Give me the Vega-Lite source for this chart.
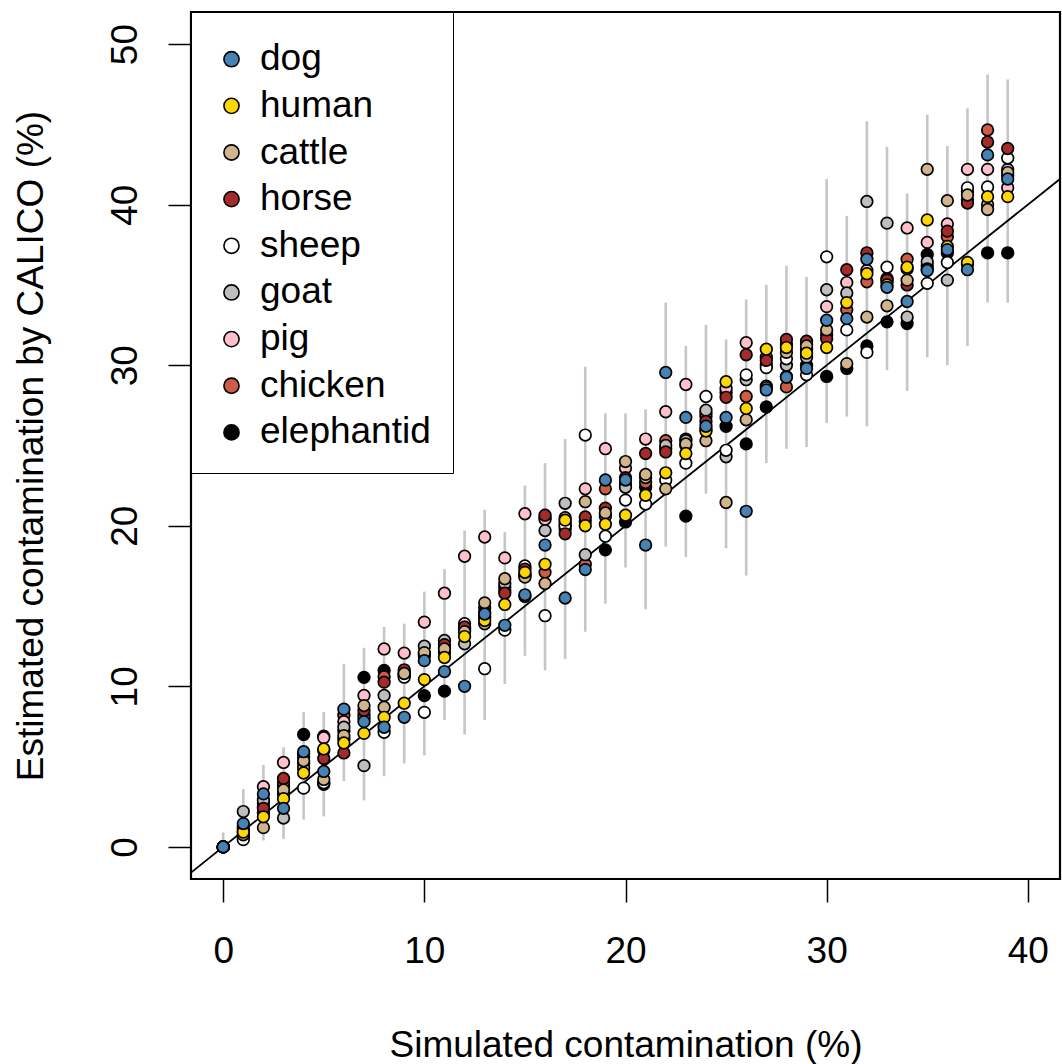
{
  "$schema": "https://vega.github.io/schema/vega-lite/v6.json",
  "width": 869,
  "height": 867,
  "autosize": {"type": "none"},
  "padding": {"left": 191, "top": 12, "right": 2, "bottom": 185},
  "background": "white",
  "config": {
    "view": {"stroke": "black", "strokeWidth": 2.2},
    "font": "Liberation Sans",
    "axis": {"domain": false, "grid": false, "ticks": true, "tickColor": "black", "tickWidth": 1.5, "tickSize": 23,
      "labelFont": "Liberation Sans", "labelFontSize": 37, "labelColor": "black", "labelFlush": false, "labelOverlap": false,
      "titleFont": "Liberation Sans", "titleFontSize": 37, "titleFontWeight": "normal", "titleColor": "black"}
  },
  "datasets": {
    "bars": [
      {"sim":0,"lo":0,"hi":0.9},{"sim":1,"lo":0.2,"hi":3.6},{"sim":2,"lo":0.4,"hi":5.1},{"sim":3,"lo":0.5,"hi":6.2},
      {"sim":4,"lo":1.7,"hi":8.4},{"sim":5,"lo":1.9,"hi":8.4},{"sim":6,"lo":4.1,"hi":11.4},{"sim":7,"lo":2.9,"hi":12.4},
      {"sim":8,"lo":4.4,"hi":13.7},{"sim":9,"lo":5.2,"hi":13.9},{"sim":10,"lo":5.7,"hi":15.9},{"sim":11,"lo":7.9,"hi":17.3},
      {"sim":12,"lo":7.0,"hi":19.7},{"sim":13,"lo":7.9,"hi":21.0},{"sim":14,"lo":10.15,"hi":19.6},{"sim":15,"lo":11.9,"hi":22.5},
      {"sim":16,"lo":11.0,"hi":23.9},{"sim":17,"lo":11.7,"hi":25.4},{"sim":18,"lo":13.4,"hi":29.9},{"sim":19,"lo":15.15,"hi":27.0},
      {"sim":20,"lo":17.4,"hi":27.0},{"sim":21,"lo":14.8,"hi":27.25},{"sim":22,"lo":18.7,"hi":33.9},{"sim":23,"lo":18.05,"hi":31.2},
      {"sim":24,"lo":22.0,"hi":32.5},{"sim":25,"lo":18.6,"hi":31.6},{"sim":26,"lo":16.9,"hi":34.1},{"sim":27,"lo":23.9,"hi":35.0},
      {"sim":28,"lo":24.8,"hi":36.2},{"sim":29,"lo":24.9,"hi":35.5},{"sim":30,"lo":26.4,"hi":41.6},{"sim":31,"lo":26.8,"hi":39.3},
      {"sim":32,"lo":26.2,"hi":45.2},{"sim":33,"lo":29.7,"hi":43.6},{"sim":34,"lo":28.4,"hi":40.7},{"sim":35,"lo":30.5,"hi":45.6},
      {"sim":36,"lo":30.0,"hi":43.65},{"sim":37,"lo":31.2,"hi":46.0},{"sim":38,"lo":33.9,"hi":48.1},{"sim":39,"lo":33.9,"hi":47.8}
    ],
    "diag": [{"v": -1.6}, {"v": 41.6}],
    "points": [
      {"sim":0,"species":"elephantid","est":0},{"sim":1,"species":"elephantid","est":0.6},{"sim":2,"species":"elephantid","est":2.5},{"sim":3,"species":"elephantid","est":3.8},{"sim":4,"species":"elephantid","est":7.0},{"sim":5,"species":"elephantid","est":6.9},{"sim":6,"species":"elephantid","est":7.2},{"sim":7,"species":"elephantid","est":10.56},{"sim":8,"species":"elephantid","est":10.99},{"sim":9,"species":"elephantid","est":10.7},
      {"sim":10,"species":"elephantid","est":9.42},{"sim":11,"species":"elephantid","est":9.7},{"sim":12,"species":"elephantid","est":13.5},{"sim":13,"species":"elephantid","est":14.3},{"sim":14,"species":"elephantid","est":16.0},{"sim":15,"species":"elephantid","est":17.0},{"sim":16,"species":"elephantid","est":20.5},{"sim":17,"species":"elephantid","est":20.0},{"sim":18,"species":"elephantid","est":20.3},{"sim":19,"species":"elephantid","est":18.5},
      {"sim":20,"species":"elephantid","est":20.24},{"sim":21,"species":"elephantid","est":22.4},{"sim":22,"species":"elephantid","est":24.8},{"sim":23,"species":"elephantid","est":20.6},{"sim":24,"species":"elephantid","est":26.0},{"sim":25,"species":"elephantid","est":26.2},{"sim":26,"species":"elephantid","est":25.1},{"sim":27,"species":"elephantid","est":27.4},{"sim":28,"species":"elephantid","est":29.3},{"sim":29,"species":"elephantid","est":30.0},
      {"sim":30,"species":"elephantid","est":29.3},{"sim":31,"species":"elephantid","est":29.8},{"sim":32,"species":"elephantid","est":31.2},{"sim":33,"species":"elephantid","est":32.7},{"sim":34,"species":"elephantid","est":32.6},{"sim":35,"species":"elephantid","est":36.9},{"sim":36,"species":"elephantid","est":37.0},{"sim":37,"species":"elephantid","est":36.3},{"sim":38,"species":"elephantid","est":37.0},{"sim":39,"species":"elephantid","est":37.0},

      {"sim":0,"species":"chicken","est":0},{"sim":1,"species":"chicken","est":0.9},{"sim":2,"species":"chicken","est":2.7},{"sim":3,"species":"chicken","est":4.0},{"sim":4,"species":"chicken","est":5.2},{"sim":5,"species":"chicken","est":6.0},{"sim":6,"species":"chicken","est":8.2},{"sim":7,"species":"chicken","est":8.2},{"sim":8,"species":"chicken","est":10.6},{"sim":9,"species":"chicken","est":10.9},
      {"sim":10,"species":"chicken","est":11.9},{"sim":11,"species":"chicken","est":12.4},{"sim":12,"species":"chicken","est":13.6},{"sim":13,"species":"chicken","est":14.9},{"sim":14,"species":"chicken","est":16.2},{"sim":15,"species":"chicken","est":15.6},{"sim":16,"species":"chicken","est":17.1},{"sim":17,"species":"chicken","est":19.8},{"sim":18,"species":"chicken","est":17.6},{"sim":19,"species":"chicken","est":22.3},
      {"sim":20,"species":"chicken","est":22.6},{"sim":21,"species":"chicken","est":22.7},{"sim":22,"species":"chicken","est":25.3},{"sim":23,"species":"chicken","est":25.4},{"sim":24,"species":"chicken","est":26.8},{"sim":25,"species":"chicken","est":28.3},{"sim":26,"species":"chicken","est":28.05},{"sim":27,"species":"chicken","est":30.0},{"sim":28,"species":"chicken","est":28.65},{"sim":29,"species":"chicken","est":31.3},
      {"sim":30,"species":"chicken","est":31.9},{"sim":31,"species":"chicken","est":33.45},{"sim":32,"species":"chicken","est":35.2},{"sim":33,"species":"chicken","est":35.2},{"sim":34,"species":"chicken","est":36.6},{"sim":35,"species":"chicken","est":36.2},{"sim":36,"species":"chicken","est":38.0},{"sim":37,"species":"chicken","est":40.3},{"sim":38,"species":"chicken","est":44.65},{"sim":39,"species":"chicken","est":41.8},

      {"sim":0,"species":"pig","est":0},{"sim":1,"species":"pig","est":1.3},{"sim":2,"species":"pig","est":3.75},{"sim":3,"species":"pig","est":5.26},{"sim":4,"species":"pig","est":5.8},{"sim":5,"species":"pig","est":6.8},{"sim":6,"species":"pig","est":7.8},{"sim":7,"species":"pig","est":9.43},{"sim":8,"species":"pig","est":12.33},{"sim":9,"species":"pig","est":12.07},
      {"sim":10,"species":"pig","est":14.0},{"sim":11,"species":"pig","est":15.8},{"sim":12,"species":"pig","est":18.1},{"sim":13,"species":"pig","est":19.3},{"sim":14,"species":"pig","est":18.0},{"sim":15,"species":"pig","est":20.75},{"sim":16,"species":"pig","est":20.4},{"sim":17,"species":"pig","est":20.2},{"sim":18,"species":"pig","est":22.3},{"sim":19,"species":"pig","est":24.8},
      {"sim":20,"species":"pig","est":23.6},{"sim":21,"species":"pig","est":25.4},{"sim":22,"species":"pig","est":27.1},{"sim":23,"species":"pig","est":28.8},{"sim":24,"species":"pig","est":27.0},{"sim":25,"species":"pig","est":28.55},{"sim":26,"species":"pig","est":31.4},{"sim":27,"species":"pig","est":30.5},{"sim":28,"species":"pig","est":31.3},{"sim":29,"species":"pig","est":31.0},
      {"sim":30,"species":"pig","est":33.65},{"sim":31,"species":"pig","est":35.15},{"sim":32,"species":"pig","est":35.9},{"sim":33,"species":"pig","est":35.4},{"sim":34,"species":"pig","est":38.55},{"sim":35,"species":"pig","est":37.65},{"sim":36,"species":"pig","est":38.8},{"sim":37,"species":"pig","est":42.2},{"sim":38,"species":"pig","est":42.2},{"sim":39,"species":"pig","est":41.05},

      {"sim":0,"species":"goat","est":0},{"sim":1,"species":"goat","est":2.2},{"sim":2,"species":"goat","est":2.9},{"sim":3,"species":"goat","est":1.8},{"sim":4,"species":"goat","est":4.9},{"sim":5,"species":"goat","est":3.9},{"sim":6,"species":"goat","est":7.45},{"sim":7,"species":"goat","est":5.06},{"sim":8,"species":"goat","est":9.43},{"sim":9,"species":"goat","est":10.7},
      {"sim":10,"species":"goat","est":12.5},{"sim":11,"species":"goat","est":12.86},{"sim":12,"species":"goat","est":12.65},{"sim":13,"species":"goat","est":13.9},{"sim":14,"species":"goat","est":16.4},{"sim":15,"species":"goat","est":16.9},{"sim":16,"species":"goat","est":19.7},{"sim":17,"species":"goat","est":21.4},{"sim":18,"species":"goat","est":18.2},{"sim":19,"species":"goat","est":20.6},
      {"sim":20,"species":"goat","est":22.4},{"sim":21,"species":"goat","est":23.0},{"sim":22,"species":"goat","est":25.0},{"sim":23,"species":"goat","est":25.3},{"sim":24,"species":"goat","est":27.2},{"sim":25,"species":"goat","est":24.3},{"sim":26,"species":"goat","est":29.1},{"sim":27,"species":"goat","est":28.7},{"sim":28,"species":"goat","est":30.0},{"sim":29,"species":"goat","est":30.5},
      {"sim":30,"species":"goat","est":34.7},{"sim":31,"species":"goat","est":34.5},{"sim":32,"species":"goat","est":40.2},{"sim":33,"species":"goat","est":38.85},{"sim":34,"species":"goat","est":33.0},{"sim":35,"species":"goat","est":36.45},{"sim":36,"species":"goat","est":35.3},{"sim":37,"species":"goat","est":40.8},{"sim":38,"species":"goat","est":40.0},{"sim":39,"species":"goat","est":42.2},

      {"sim":0,"species":"sheep","est":0},{"sim":1,"species":"sheep","est":0.45},{"sim":2,"species":"sheep","est":2.1},{"sim":3,"species":"sheep","est":3.3},{"sim":4,"species":"sheep","est":3.66},{"sim":5,"species":"sheep","est":4.0},{"sim":6,"species":"sheep","est":6.7},{"sim":7,"species":"sheep","est":8.0},{"sim":8,"species":"sheep","est":7.14},{"sim":9,"species":"sheep","est":10.57},
      {"sim":10,"species":"sheep","est":8.38},{"sim":11,"species":"sheep","est":12.1},{"sim":12,"species":"sheep","est":13.9},{"sim":13,"species":"sheep","est":11.1},{"sim":14,"species":"sheep","est":13.5},{"sim":15,"species":"sheep","est":17.5},{"sim":16,"species":"sheep","est":14.4},{"sim":17,"species":"sheep","est":20.0},{"sim":18,"species":"sheep","est":25.65},{"sim":19,"species":"sheep","est":19.35},
      {"sim":20,"species":"sheep","est":21.6},{"sim":21,"species":"sheep","est":21.35},{"sim":22,"species":"sheep","est":22.85},{"sim":23,"species":"sheep","est":23.9},{"sim":24,"species":"sheep","est":28.05},{"sim":25,"species":"sheep","est":24.7},{"sim":26,"species":"sheep","est":29.4},{"sim":27,"species":"sheep","est":29.85},{"sim":28,"species":"sheep","est":30.4},{"sim":29,"species":"sheep","est":29.4},
      {"sim":30,"species":"sheep","est":36.75},{"sim":31,"species":"sheep","est":32.2},{"sim":32,"species":"sheep","est":30.8},{"sim":33,"species":"sheep","est":36.1},{"sim":34,"species":"sheep","est":36.0},{"sim":35,"species":"sheep","est":35.1},{"sim":36,"species":"sheep","est":36.4},{"sim":37,"species":"sheep","est":41.05},{"sim":38,"species":"sheep","est":41.1},{"sim":39,"species":"sheep","est":42.9},

      {"sim":0,"species":"horse","est":0},{"sim":1,"species":"horse","est":1.1},{"sim":2,"species":"horse","est":2.4},{"sim":3,"species":"horse","est":4.26},{"sim":4,"species":"horse","est":5.6},{"sim":5,"species":"horse","est":5.5},{"sim":6,"species":"horse","est":5.85},{"sim":7,"species":"horse","est":8.5},{"sim":8,"species":"horse","est":10.26},{"sim":9,"species":"horse","est":11.03},
      {"sim":10,"species":"horse","est":12.0},{"sim":11,"species":"horse","est":12.6},{"sim":12,"species":"horse","est":13.7},{"sim":13,"species":"horse","est":14.6},{"sim":14,"species":"horse","est":15.8},{"sim":15,"species":"horse","est":17.3},{"sim":16,"species":"horse","est":20.66},{"sim":17,"species":"horse","est":19.5},{"sim":18,"species":"horse","est":20.55},{"sim":19,"species":"horse","est":21.1},
      {"sim":20,"species":"horse","est":23.0},{"sim":21,"species":"horse","est":24.5},{"sim":22,"species":"horse","est":24.6},{"sim":23,"species":"horse","est":25.0},{"sim":24,"species":"horse","est":26.5},{"sim":25,"species":"horse","est":28.0},{"sim":26,"species":"horse","est":30.65},{"sim":27,"species":"horse","est":30.3},{"sim":28,"species":"horse","est":31.6},{"sim":29,"species":"horse","est":31.5},
      {"sim":30,"species":"horse","est":31.65},{"sim":31,"species":"horse","est":35.95},{"sim":32,"species":"horse","est":37.0},{"sim":33,"species":"horse","est":35.3},{"sim":34,"species":"horse","est":35.0},{"sim":35,"species":"horse","est":36.0},{"sim":36,"species":"horse","est":38.35},{"sim":37,"species":"horse","est":40.1},{"sim":38,"species":"horse","est":43.9},{"sim":39,"species":"horse","est":43.5},

      {"sim":0,"species":"cattle","est":0},{"sim":1,"species":"cattle","est":0.75},{"sim":2,"species":"cattle","est":1.2},{"sim":3,"species":"cattle","est":3.55},{"sim":4,"species":"cattle","est":5.37},{"sim":5,"species":"cattle","est":4.2},{"sim":6,"species":"cattle","est":6.93},{"sim":7,"species":"cattle","est":8.8},{"sim":8,"species":"cattle","est":8.7},{"sim":9,"species":"cattle","est":10.8},
      {"sim":10,"species":"cattle","est":12.1},{"sim":11,"species":"cattle","est":12.33},{"sim":12,"species":"cattle","est":13.4},{"sim":13,"species":"cattle","est":15.2},{"sim":14,"species":"cattle","est":16.7},{"sim":15,"species":"cattle","est":16.8},{"sim":16,"species":"cattle","est":16.4},{"sim":17,"species":"cattle","est":20.5},{"sim":18,"species":"cattle","est":21.5},{"sim":19,"species":"cattle","est":20.8},
      {"sim":20,"species":"cattle","est":24.0},{"sim":21,"species":"cattle","est":23.2},{"sim":22,"species":"cattle","est":22.3},{"sim":23,"species":"cattle","est":25.1},{"sim":24,"species":"cattle","est":25.3},{"sim":25,"species":"cattle","est":21.45},{"sim":26,"species":"cattle","est":26.6},{"sim":27,"species":"cattle","est":28.6},{"sim":28,"species":"cattle","est":30.8},{"sim":29,"species":"cattle","est":31.2},
      {"sim":30,"species":"cattle","est":32.2},{"sim":31,"species":"cattle","est":30.1},{"sim":32,"species":"cattle","est":33.0},{"sim":33,"species":"cattle","est":33.7},{"sim":34,"species":"cattle","est":35.3},{"sim":35,"species":"cattle","est":42.2},{"sim":36,"species":"cattle","est":40.25},{"sim":37,"species":"cattle","est":40.6},{"sim":38,"species":"cattle","est":39.7},{"sim":39,"species":"cattle","est":42.0},

      {"sim":0,"species":"human","est":0},{"sim":1,"species":"human","est":0.92},{"sim":2,"species":"human","est":1.87},{"sim":3,"species":"human","est":3.0},{"sim":4,"species":"human","est":4.6},{"sim":5,"species":"human","est":6.1},{"sim":6,"species":"human","est":6.47},{"sim":7,"species":"human","est":7.07},{"sim":8,"species":"human","est":8.07},{"sim":9,"species":"human","est":8.95},
      {"sim":10,"species":"human","est":10.42},{"sim":11,"species":"human","est":11.8},{"sim":12,"species":"human","est":13.1},{"sim":13,"species":"human","est":14.1},{"sim":14,"species":"human","est":15.1},{"sim":15,"species":"human","est":17.1},{"sim":16,"species":"human","est":17.6},{"sim":17,"species":"human","est":20.35},{"sim":18,"species":"human","est":20.0},{"sim":19,"species":"human","est":20.1},
      {"sim":20,"species":"human","est":20.66},{"sim":21,"species":"human","est":21.9},{"sim":22,"species":"human","est":23.3},{"sim":23,"species":"human","est":24.5},{"sim":24,"species":"human","est":25.9},{"sim":25,"species":"human","est":28.97},{"sim":26,"species":"human","est":27.3},{"sim":27,"species":"human","est":31.0},{"sim":28,"species":"human","est":31.1},{"sim":29,"species":"human","est":30.75},
      {"sim":30,"species":"human","est":31.1},{"sim":31,"species":"human","est":33.9},{"sim":32,"species":"human","est":35.7},{"sim":33,"species":"human","est":35.0},{"sim":34,"species":"human","est":36.1},{"sim":35,"species":"human","est":39.05},{"sim":36,"species":"human","est":37.4},{"sim":37,"species":"human","est":36.4},{"sim":38,"species":"human","est":40.5},{"sim":39,"species":"human","est":40.5},

      {"sim":0,"species":"dog","est":0},{"sim":1,"species":"dog","est":1.45},{"sim":2,"species":"dog","est":3.3},{"sim":3,"species":"dog","est":2.4},{"sim":4,"species":"dog","est":5.93},{"sim":5,"species":"dog","est":4.7},{"sim":6,"species":"dog","est":8.58},{"sim":7,"species":"dog","est":7.8},{"sim":8,"species":"dog","est":7.45},{"sim":9,"species":"dog","est":8.07},
      {"sim":10,"species":"dog","est":11.6},{"sim":11,"species":"dog","est":10.92},{"sim":12,"species":"dog","est":10.0},{"sim":13,"species":"dog","est":14.5},{"sim":14,"species":"dog","est":13.8},{"sim":15,"species":"dog","est":15.7},{"sim":16,"species":"dog","est":18.8},{"sim":17,"species":"dog","est":15.5},{"sim":18,"species":"dog","est":17.27},{"sim":19,"species":"dog","est":22.85},
      {"sim":20,"species":"dog","est":22.85},{"sim":21,"species":"dog","est":18.8},{"sim":22,"species":"dog","est":29.55},{"sim":23,"species":"dog","est":26.75},{"sim":24,"species":"dog","est":26.2},{"sim":25,"species":"dog","est":26.75},{"sim":26,"species":"dog","est":20.9},{"sim":27,"species":"dog","est":28.46},{"sim":28,"species":"dog","est":29.25},{"sim":29,"species":"dog","est":29.8},
      {"sim":30,"species":"dog","est":32.8},{"sim":31,"species":"dog","est":32.9},{"sim":32,"species":"dog","est":36.6},{"sim":33,"species":"dog","est":34.85},{"sim":34,"species":"dog","est":33.97},{"sim":35,"species":"dog","est":35.9},{"sim":36,"species":"dog","est":37.2},{"sim":37,"species":"dog","est":35.95},{"sim":38,"species":"dog","est":43.1},{"sim":39,"species":"dog","est":41.6}
    ]
  },
  "layer": [
    {
      "data": {"name": "bars"},
      "mark": {"type": "rule", "color": "#C6C6C6", "strokeWidth": 2.6},
      "encoding": {
        "x": {"field": "sim", "type": "quantitative", "scale": {"domain": [-1.6, 41.6], "nice": false, "zero": false},
          "axis": {"values": [0, 10, 20, 30, 40], "labelPadding": 60, "labelBaseline": "alphabetic", "labelAlign": "center",
            "title": "Simulated contamination (%)", "titleX": 434.5, "titleY": 177, "titleAlign": "center", "titleBaseline": "alphabetic"}},
        "y": {"field": "lo", "type": "quantitative", "scale": {"domain": [-2, 52], "nice": false, "zero": false},
          "axis": {"values": [0, 10, 20, 30, 40, 50], "labelAngle": -90, "labelAlign": "center", "labelBaseline": "alphabetic", "labelPadding": 32,
            "title": "Estimated contamination by CALICO (%)", "titleAngle": -90, "titleX": -149, "titleY": 433.5, "titleAlign": "center", "titleBaseline": "alphabetic"}},
        "y2": {"field": "hi"}
      }
    },
    {
      "data": {"name": "diag"},
      "mark": {"type": "line", "color": "black", "strokeWidth": 1.8, "clip": true},
      "encoding": {
        "x": {"field": "v", "type": "quantitative"},
        "y": {"field": "v", "type": "quantitative"}
      }
    },
    {
      "data": {"name": "points"},
      "mark": {"type": "point", "shape": "circle", "filled": true, "size": 135, "stroke": "black", "strokeWidth": 1.7, "opacity": 1},
      "encoding": {
        "x": {"field": "sim", "type": "quantitative"},
        "y": {"field": "est", "type": "quantitative"},
        "fill": {"field": "species", "type": "nominal",
          "scale": {"domain": ["dog", "human", "cattle", "horse", "sheep", "goat", "pig", "chicken", "elephantid"],
            "range": ["#4682B4", "#FFD700", "#D2B48C", "#A52A2A", "#FFFFFF", "#BEBEBE", "#FFC0CB", "#CD5B45", "#000000"]},
          "legend": {"title": " ", "titleFontSize": 4, "titlePadding": 2.7, "orient": "none", "legendX": 0, "legendY": 0, "fillColor": "white", "strokeColor": "black",
            "padding": 22, "symbolType": "circle", "symbolSize": 230, "symbolStrokeColor": "black", "symbolStrokeWidth": 1.6, "symbolOpacity": 1,
            "labelFont": "Liberation Sans", "labelFontSize": 37, "labelColor": "black", "labelOffset": 10, "rowPadding": 8.65, "labelLimit": 0}}
      }
    }
  ]
}
